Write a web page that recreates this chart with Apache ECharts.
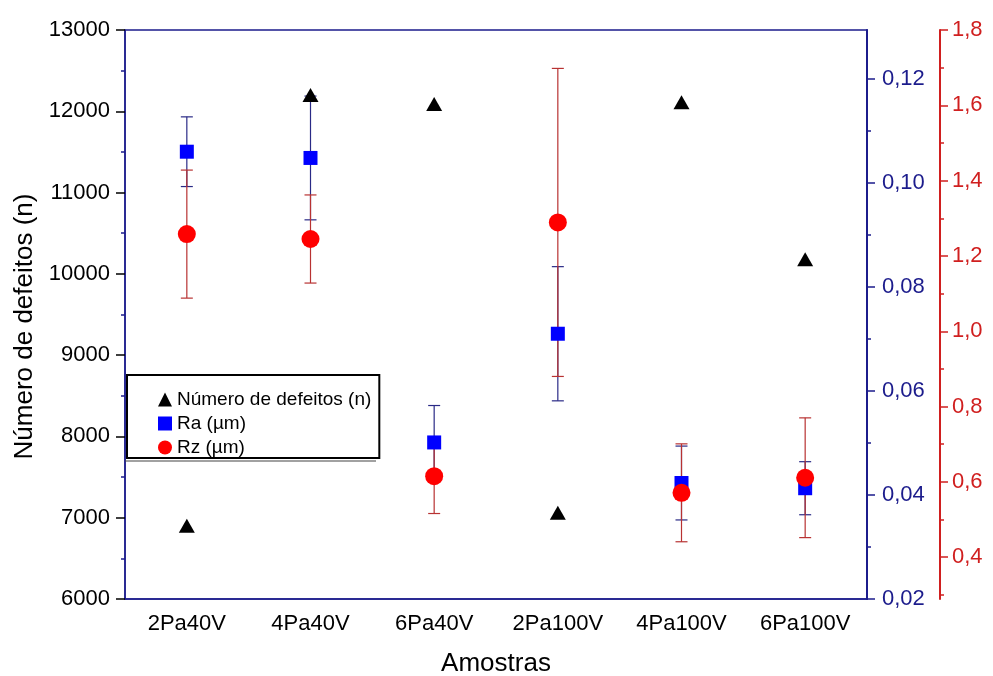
<!DOCTYPE html>
<html>
<head>
<meta charset="utf-8">
<script src="https://cdn.jsdelivr.net/npm/echarts@6/dist/echarts.min.js"></script>
<style>
  html, body { margin: 0; padding: 0; background: #fff; }
  #chart { width: 993px; height: 676px; }
</style>
</head>
<body>
<div id="chart"></div>
<script>
// Samples (deposition pressure / bias voltage)
const categories = ['2Pa40V', '4Pa40V', '6Pa40V', '2Pa100V', '4Pa100V', '6Pa100V'];

// Number of defects (left axis)
const defeitos = [6900, 12200, 12090, 7060, 12110, 10180];

// Ra roughness and its deviation (blue axis, µm)
const ra    = [0.106, 0.1048, 0.0501, 0.071, 0.0423, 0.0413];
const raErr = [0.0067, 0.0119, 0.0071, 0.0129, 0.0071, 0.0051];

// Rz roughness and its deviation (red axis, µm)
const rz    = [1.258, 1.245, 0.615, 1.289, 0.571, 0.611];
const rzErr = [0.170, 0.117, 0.099, 0.409, 0.130, 0.159];

// Tick values for the two right-hand axes
const raTicks      = [0.02, 0.04, 0.06, 0.08, 0.10, 0.12];
const raMinorTicks = [0.03, 0.05, 0.07, 0.09, 0.11];
const rzTicks      = [0.4, 0.6, 0.8, 1.0, 1.2, 1.4, 1.6, 1.8];
const rzMinorTicks = [0.3, 0.5, 0.7, 0.9, 1.1, 1.3, 1.5, 1.7];

const NAVY = '#1c1c8c';
const RED_AXIS = '#d01f1f';
const FONT = 'Liberation Sans, Arial, sans-serif';

const chart = echarts.init(document.getElementById('chart'), null, { renderer: 'canvas' });

function errorBar(color) {
  return function (params, api) {
    const x = api.value(0);
    const v = api.value(1);
    const e = api.value(2);
    const top = api.coord([x, v + e]);
    const bot = api.coord([x, v - e]);
    const half = 6;
    const style = { stroke: color, lineWidth: 1.2 };
    return {
      type: 'group',
      children: [
        { type: 'line', shape: { x1: top[0], y1: top[1], x2: bot[0], y2: bot[1] }, style },
        { type: 'line', shape: { x1: top[0] - half, y1: top[1], x2: top[0] + half, y2: top[1] }, style },
        { type: 'line', shape: { x1: bot[0] - half, y1: bot[1], x2: bot[0] + half, y2: bot[1] }, style }
      ]
    };
  };
}

const comma = (d) => (v) => v.toFixed(d).replace('.', ',');

const option = {
  backgroundColor: '#fff',
  animation: false,
  textStyle: { fontFamily: FONT },
  grid: {
    left: 125, right: 126, top: 30, bottom: 77,
    outerBoundsMode: 'none',
    containLabel: false,
    show: true, borderColor: NAVY, borderWidth: 1.5
  },
  legend: {
    orient: 'vertical',
    left: 127, top: 375,
    padding: [15, 8, 1, 31],
    itemGap: 5,
    itemWidth: 14, itemHeight: 14,
    borderColor: '#000', borderWidth: 2,
    textStyle: { fontSize: 19, color: '#000', fontFamily: FONT, lineHeight: 18 },
    data: [
      { name: 'Número de defeitos (n)', icon: 'triangle' },
      { name: 'Ra (µm)', icon: 'rect' },
      { name: 'Rz (µm)', icon: 'circle' }
    ]
  },
  // thin rule under the legend box
  graphic: [
    {
      type: 'line',
      shape: { x1: 125, y1: 461, x2: 376, y2: 461 },
      style: { stroke: '#444', lineWidth: 1.2 },
      z: 10
    }
  ],
  xAxis: {
    type: 'category',
    data: categories,
    boundaryGap: true,
    name: 'Amostras',
    nameLocation: 'middle',
    nameGap: 52,
    nameTextStyle: { fontSize: 26, color: '#000', fontFamily: FONT },
    axisLine: { lineStyle: { color: NAVY, width: 1.5 } },
    axisTick: { alignWithLabel: true, length: 8, lineStyle: { color: '#000', width: 1.5 } },
    axisLabel: { fontSize: 22, color: '#000', margin: 14, interval: 0, fontFamily: FONT },
    splitLine: { show: false }
  },
  yAxis: [
    {
      type: 'value',
      position: 'left',
      min: 6000, max: 13000, interval: 1000,
      name: 'Número de defeitos (n)',
      nameLocation: 'middle',
      nameGap: 86,
      nameTextStyle: { fontSize: 26, color: '#000', fontFamily: FONT, padding: [0, 24, 0, 0] },
      axisLine: { show: true, lineStyle: { color: NAVY, width: 1.5 } },
      axisTick: { show: true, length: 9, lineStyle: { color: '#000', width: 1.5 } },
      minorTick: { show: true, splitNumber: 2, length: 4, lineStyle: { color: NAVY, width: 1.5 } },
      axisLabel: { fontSize: 22, color: '#000', margin: 15, fontFamily: FONT, formatter: (v) => String(v) },
      splitLine: { show: false }
    },
    {
      type: 'value',
      position: 'right',
      min: 0.02, max: 0.1294,
      axisLine: { show: true, lineStyle: { color: NAVY, width: 2 } },
      axisTick: { show: true, length: 8, customValues: raTicks, lineStyle: { color: NAVY, width: 1.5 } },
      axisLabel: { fontSize: 22, color: NAVY, margin: 15, customValues: raTicks, formatter: comma(2), fontFamily: FONT },
      splitLine: { show: false }
    },
    {
      type: 'value',
      position: 'right',
      offset: 73,
      min: 0.289, max: 1.8,
      axisLine: { show: true, lineStyle: { color: RED_AXIS, width: 2 } },
      axisTick: { show: true, length: 8, customValues: rzTicks, lineStyle: { color: RED_AXIS, width: 1.5 } },
      axisLabel: { fontSize: 22, color: RED_AXIS, margin: 12, customValues: rzTicks, formatter: comma(1), fontFamily: FONT },
      splitLine: { show: false }
    },
    {
      // minor ticks of the Ra axis
      type: 'value',
      position: 'right',
      min: 0.02, max: 0.1294,
      axisLine: { show: false },
      axisTick: { show: true, length: 4, customValues: raMinorTicks, lineStyle: { color: NAVY, width: 1.5 } },
      axisLabel: { show: false },
      splitLine: { show: false }
    },
    {
      // minor ticks of the Rz axis
      type: 'value',
      position: 'right',
      offset: 73,
      min: 0.289, max: 1.8,
      axisLine: { show: false },
      axisTick: { show: true, length: 4, customValues: rzMinorTicks, lineStyle: { color: RED_AXIS, width: 1.5 } },
      axisLabel: { show: false },
      splitLine: { show: false }
    }
  ],
  series: [
    {
      type: 'custom',
      name: 'Ra error',
      yAxisIndex: 1,
      renderItem: errorBar('#2a2a86'),
      encode: { x: 0, y: 1 },
      data: ra.map((v, i) => [i, v, raErr[i]]),
      z: 2,
      silent: true
    },
    {
      type: 'custom',
      name: 'Rz error',
      yAxisIndex: 2,
      renderItem: errorBar('#b83232'),
      encode: { x: 0, y: 1 },
      data: rz.map((v, i) => [i, v, rzErr[i]]),
      z: 3,
      silent: true
    },
    {
      type: 'scatter',
      name: 'Ra (µm)',
      yAxisIndex: 1,
      symbol: 'rect',
      symbolSize: 14,
      itemStyle: { color: '#0000ff', opacity: 1 },
      data: ra,
      z: 4
    },
    {
      type: 'scatter',
      name: 'Rz (µm)',
      yAxisIndex: 2,
      symbol: 'circle',
      symbolSize: 18,
      itemStyle: { color: '#ff0000', opacity: 1 },
      data: rz,
      z: 5
    },
    {
      type: 'scatter',
      name: 'Número de defeitos (n)',
      yAxisIndex: 0,
      symbol: 'triangle',
      symbolSize: [16, 14],
      itemStyle: { color: '#000', opacity: 1 },
      data: defeitos,
      z: 6
    }
  ]
};

chart.setOption(option);
</script>
</body>
</html>
